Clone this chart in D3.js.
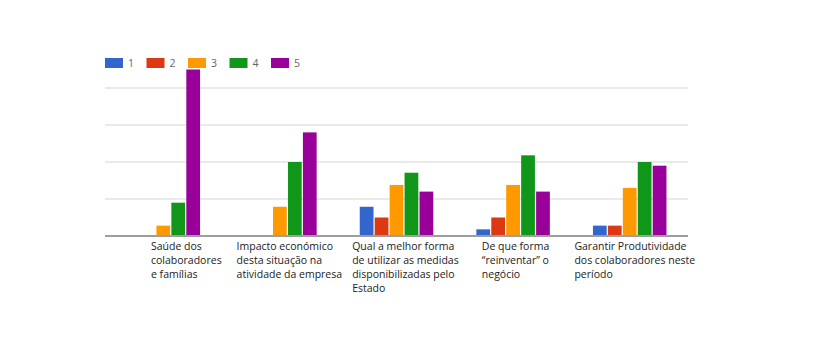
<!DOCTYPE html>
<html lang="pt">
<head>
<meta charset="UTF-8">
<title>Respostas</title>
<style>
  body { margin: 0; background: #fff; }
  svg { display: block; font-family: "Open Sans", sans-serif; }
</style>
</head>
<body>
<svg id="chart" width="820" height="362"></svg>
<script src="https://d3js.org/d3.v7.min.js"></script>
<script>
// categories (label lines as shown under each group)
const categories = [
  ["Saúde dos", "colaboradores", "e famílias"],
  ["Impacto económico", "desta situação na", "atividade da empresa"],
  ["Qual a melhor forma", "de utilizar as medidas", "disponibilizadas pelo", "Estado"],
  ["De que forma", "“reinventar” o", "negócio"],
  ["Garantir Produtividade", "dos colaboradores neste", "período"]
];
const seriesNames = ["1", "2", "3", "4", "5"];
// values per series, one per category
const s1 = [0, 0, 7.9, 1.8, 2.8];
const s2 = [0, 0, 5, 5, 2.8];
const s3 = [2.8, 7.9, 13.8, 13.8, 13];
const s4 = [9, 20, 17.1, 21.8, 20];
const s5 = [45, 28, 12, 12, 19];
const gridTicks = [0, 10, 20, 30, 40];

const series = [s1, s2, s3, s4, s5];
const colors = ["#3366cc", "#dc3912", "#ff9900", "#109618", "#990099"];
// label left offsets from each group's band start (layout only)
const labelShift = [46, 15, 14, 27, 3];

const svg = d3.select("#chart");
const left = 105, right = 688, base = 236;

const x0 = d3.scaleBand().domain(d3.range(categories.length)).range([left, right]).padding(0);
const groupW = 73.5;
const x1 = d3.scaleBand().domain(d3.range(seriesNames.length)).range([0, groupW]).paddingInner(0.08);
const y = d3.scaleLinear().domain([0, 40]).range([base, 88]);

// gridlines
svg.append("g").selectAll("line")
  .data(gridTicks.filter(t => t > 0))
  .join("line")
  .attr("x1", left).attr("x2", right)
  .attr("y1", d => y(d)).attr("y2", d => y(d))
  .attr("stroke", "#e3e3e3").attr("stroke-width", 1.5);

// bars
const groups = svg.append("g").selectAll("g")
  .data(categories.map((c, i) => i))
  .join("g")
  .attr("transform", i => `translate(${x0(i) + (x0.bandwidth() - groupW) / 2},0)`);

groups.selectAll("rect")
  .data(i => series.map((s, k) => ({ k, v: s[i] })).filter(d => d.v > 0))
  .join("rect")
  .attr("x", d => x1(d.k))
  .attr("width", x1.bandwidth())
  .attr("y", d => y(d.v))
  .attr("height", d => y(0) - y(d.v))
  .attr("fill", d => colors[d.k]);

// baseline
svg.append("line")
  .attr("x1", left).attr("x2", right)
  .attr("y1", y(0)).attr("y2", y(0))
  .attr("stroke", "#9e9e9e").attr("stroke-width", 2);

// category labels
const labels = svg.append("g").selectAll("text")
  .data(categories.map((c, i) => ({ c, i })))
  .join("text")
  .attr("x", d => x0(d.i) + labelShift[d.i])
  .attr("y", 250)
  .attr("font-size", 10.5)
  .attr("fill", "#222");
labels.selectAll("tspan")
  .data(d => d.c.map(line => ({ line, x: x0(d.i) + labelShift[d.i] })))
  .join("tspan")
  .attr("x", d => d.x)
  .attr("dy", (d, j) => j === 0 ? 0 : 14)
  .text(d => d.line);

// legend
const legend = svg.append("g").selectAll("g")
  .data(seriesNames)
  .join("g")
  .attr("transform", (d, i) => `translate(${105 + i * 41.5},58)`);
legend.append("rect")
  .attr("width", 18).attr("height", 10)
  .attr("fill", (d, i) => colors[i]);
legend.append("text")
  .attr("x", 23).attr("y", 9)
  .attr("font-size", 10.5)
  .attr("fill", "#666")
  .text(d => d);
</script>
</body>
</html>
